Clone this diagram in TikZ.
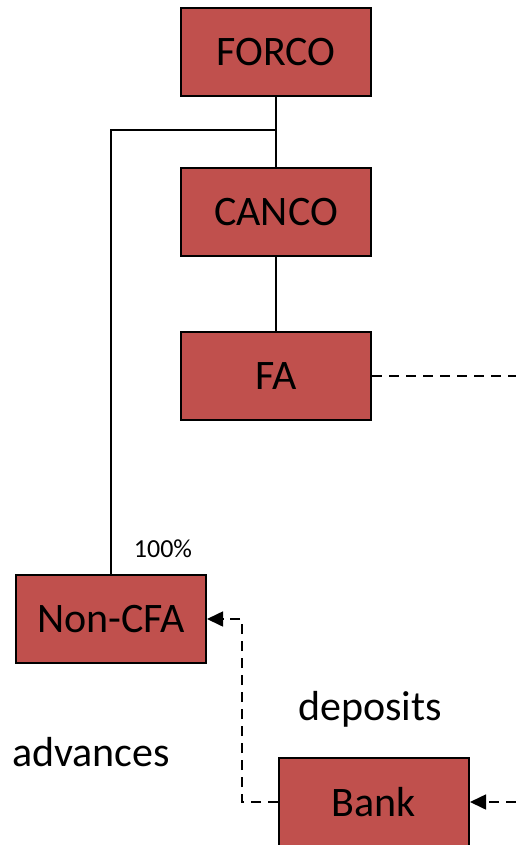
\documentclass[tikz,border=0pt]{standalone}
\usepackage{fontspec}
\setmainfont{Carlito}
\usetikzlibrary{arrows.meta}
\definecolor{boxred}{HTML}{C0504D}
\begin{document}
\begin{tikzpicture}[x=1pt,y=-1pt,
  entity/.style={draw=black, line width=2pt, fill=boxred, minimum width=190pt,
    minimum height=88pt, inner sep=0pt, font=\fontsize{42}{44}\selectfont},
  link/.style={line width=1.4pt},
  flow/.style={line width=1.6pt, dash pattern=on 10pt off 7pt},
  tip/.style={-{Triangle[length=16pt,width=15pt]}},
  lbl/.style={font=\fontsize{42}{44}\selectfont, inner sep=0pt}]
\useasboundingbox (0,0) rectangle (516,845);
\clip (0,0) rectangle (516,845);

% entities
\node[entity] (forco)  at (276,52)  {FORCO};
\node[entity] (canco)  at (276,212) {CANCO};
\node[entity] (fa)     at (276,376) {FA};
\node[entity] (noncfa) at (111,619) {Non-CFA};
\node[entity] (bank)   at (374,802) {Bank};

% ownership lines
\draw[link] (forco.south) -- (canco.north);
\draw[link] (canco.south) -- (fa.north);
\coordinate (split) at (276,130);
\draw[link] (split) -| (noncfa.north);
\node[font=\fontsize{26}{28}\selectfont, inner sep=0pt] (pct) at (163,549) {100\%};

% funding flows
\coordinate (faout) at (516,376);
\draw[flow] (fa.east) -- (faout);
\coordinate (bankin) at (516,802);
\draw[flow, tip] (bankin) -- (bank.east);
\coordinate (bend) at (242,802);
\draw[flow, tip] (bank.west) -- (bend) |- (noncfa.east);

% flow labels
\node[lbl] (dep) at (370,709) {deposits};
\node[lbl] (adv) at (91,752) {advances};
\end{tikzpicture}
\end{document}
